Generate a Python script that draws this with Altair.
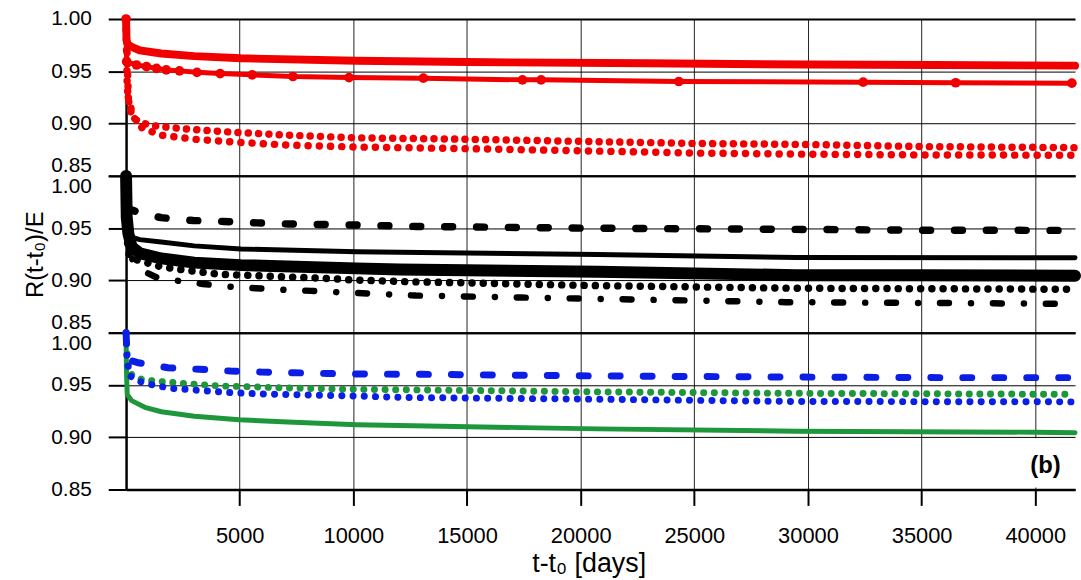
import altair as alt
import pandas as pd

FONT = "Liberation Sans"

# ---------------- data ----------------
X_TICKS = [5000, 10000, 15000, 20000, 25000, 30000, 35000, 40000]
Y_TICKS = [0.85, 0.90, 0.95, 1.00]
X_MAX = 41750

# panel 1 (red)
T_R_SOLID = [0, 20, 60, 245, 600, 1550, 3000, 5050, 10130, 15000, 22930, 30000, 35580, 41750]
V_R_SOLID = [1.0, 0.980, 0.976, 0.9734, 0.970, 0.967, 0.9645, 0.9624, 0.960, 0.9588, 0.9576, 0.9565, 0.956, 0.9554]

T_R_MARK = [0, 25, 460, 900, 1340, 1770, 2350, 3120, 4140, 5550, 7340, 9810, 13080, 17440, 18260, 24320, 32430, 36500, 41610]
V_R_MARK = [1.0, 0.9592, 0.956, 0.9545, 0.9528, 0.9513, 0.9504, 0.949, 0.9478, 0.9466, 0.945, 0.944, 0.9434, 0.9418, 0.9418, 0.9402, 0.9396, 0.939, 0.9386]

T_R_DOT1 = [0, 50, 150, 300, 600, 1200, 2500, 4500, 7000, 10000, 15000, 20000, 25000, 30000, 35000, 41750]
V_R_DOT1 = [1.0, 0.935, 0.915, 0.906, 0.901, 0.898, 0.895, 0.892, 0.889, 0.8864, 0.885, 0.883, 0.881, 0.880, 0.878, 0.877]

T_R_DOT2 = [0, 100, 300, 700, 1500, 3000, 5000, 7000, 10000, 15000, 20000, 25000, 30000, 35000, 41750]
V_R_DOT2 = [1.0, 0.925, 0.907, 0.896, 0.889, 0.885, 0.882, 0.8795, 0.8776, 0.876, 0.874, 0.8718, 0.8707, 0.870, 0.8697]

# panel 2 (black)
T_K_THICK = [0, 30, 100, 245, 600, 1550, 3000, 5050, 10130, 12030, 20750, 29480, 35000, 41750]
V_K_THICK = [1.0, 0.960, 0.945, 0.932, 0.926, 0.921, 0.917, 0.9146, 0.9115, 0.9105, 0.9083, 0.905, 0.905, 0.9045]

T_K_THIN = [0, 30, 100, 245, 600, 1550, 3000, 5050, 10130, 12030, 20750, 29480, 41750]
V_K_THIN = [1.0, 0.955, 0.945, 0.9415, 0.939, 0.9367, 0.933, 0.930, 0.9275, 0.927, 0.9248, 0.922, 0.9216]

T_K_DASH = [0, 30, 150, 700, 1550, 2950, 4300, 5750, 7120, 8570, 10000, 12760, 20000, 29340, 35000, 41750]
V_K_DASH = [1.0, 0.975, 0.968, 0.964, 0.960, 0.9573, 0.9564, 0.955, 0.954, 0.9535, 0.953, 0.9516, 0.950, 0.9488, 0.948, 0.9478]

T_K_DOT = [0, 40, 150, 600, 1550, 2560, 4120, 5180, 6810, 8700, 10000, 12320, 20750, 29340, 38000, 41750]
V_K_DOT = [1.0, 0.94, 0.922, 0.9187, 0.913, 0.9099, 0.9058, 0.905, 0.9035, 0.902, 0.9004, 0.8988, 0.895, 0.8925, 0.8918, 0.8915]

T_K_DASHDOT = [0, 60, 300, 800, 1330, 2240, 3370, 4530, 5700, 6900, 8150, 9300, 12750, 17400, 29000, 41750]
V_K_DASHDOT = [1.0, 0.94, 0.918, 0.9085, 0.903, 0.8997, 0.8966, 0.894, 0.8925, 0.891, 0.890, 0.8887, 0.8855, 0.8836, 0.8792, 0.8776]

# panel 3 (blue / green)
T_B_DASH = [0, 50, 300, 550, 1840, 3220, 4600, 5990, 7370, 8830, 10000, 13040, 20750, 28800, 36000, 41750]
V_B_DASH = [1.0, 0.975, 0.9728, 0.9712, 0.9665, 0.965, 0.9633, 0.9623, 0.9617, 0.961, 0.9605, 0.9602, 0.9586, 0.9576, 0.957, 0.957]

T_B_DOT = [0, 40, 150, 606, 1043, 1553, 1990, 2500, 3517, 4463, 5916, 7880, 9843, 12317, 20750, 29333, 39950, 41750]
V_B_DOT = [1.0, 0.975, 0.959, 0.9532, 0.9507, 0.9485, 0.9466, 0.946, 0.9443, 0.9428, 0.9415, 0.9405, 0.9396, 0.938, 0.9364, 0.9342, 0.9339, 0.9338]

T_G_DOT = [0, 60, 245, 681, 1190, 1700, 2645, 4170, 5175, 6933, 9263, 12720, 20750, 29480, 39950, 41750]
V_G_DOT = [1.0, 0.972, 0.960, 0.9554, 0.9538, 0.953, 0.9513, 0.949, 0.9485, 0.9472, 0.946, 0.9453, 0.9434, 0.942, 0.9412, 0.941]

T_G_SOLID = [0, 15, 50, 245, 825, 1553, 3006, 4970, 7369, 10135, 12025, 20750, 29480, 39950, 41750]
V_G_SOLID = [1.0, 0.965, 0.941, 0.935, 0.9286, 0.9244, 0.92, 0.9168, 0.9143, 0.912, 0.9112, 0.908, 0.9058, 0.9048, 0.9043]

# annotation "(b)" and its white backing box
NOTE_TEXT = ["(b)"]
NOTE_T = [40450]
NOTE_V = [0.8729]
BOX_T = [38600]
BOX_T2 = [41750]
BOX_V = [0.852]
BOX_V2 = [0.899]

RED = "#F00000"
BLUE = "#0A1EE6"
GREEN = "#1E963C"
BLACK = "#000000"
GRID = "#222222"

# ---------------- helpers ----------------
def frame(t, v):
    return pd.DataFrame({"t": t, "v": v})

X_SCALE = alt.Scale(domain=[0, X_MAX], nice=False, zero=False)
Y_SCALE = alt.Scale(domain=[0.85, 1.0], nice=False, zero=False)

GRID_W = {"condition": {"test": "datum.value < 0.86 || datum.value > 0.99", "value": 2}, "value": 1}


def x_axis(bottom):
    if bottom:
        return alt.Axis(values=X_TICKS, grid=True, gridColor=GRID, gridWidth=1,
                        tickSize=16, tickWidth=2, tickColor=BLACK,
                        domainColor=BLACK, domainWidth=2.5,
                        labelFontSize=22, labelColor=BLACK, labelPadding=20,
                        labelFlush=False, format="d",
                        title="t-t₀ [days]", titleFontSize=27, titleColor=BLACK,
                        titleFontWeight="normal", titlePadding=5,
                        titleX=466, titleAlign="center")
    return alt.Axis(values=X_TICKS, grid=True, gridColor=GRID, gridWidth=1,
                    ticks=False, labels=False, domain=False, title=None)


def y_axis(panel):
    kw = dict(values=Y_TICKS, format=".2f", grid=True, gridColor=BLACK, gridWidth=GRID_W,
              tickSize=18, tickWidth=2, tickColor=BLACK,
              domainColor=BLACK, domainWidth=2.5,
              labelFontSize=21, labelColor=BLACK, labelPadding=17)
    if panel == 1:
        kw["labelBaseline"] = {"condition": {"test": "datum.value < 0.86", "value": "bottom"}, "value": "middle"}
    elif panel == 2:
        kw["labelFlush"] = True
    else:
        kw["labelBaseline"] = {"condition": {"test": "datum.value > 0.99", "value": "top"}, "value": "middle"}
    if panel == 2:
        kw.update(title="R(t-t₀)/E", titleFontSize=24, titleColor=BLACK,
                  titleFontWeight="normal", titlePadding=3)
    else:
        kw["title"] = None
    return alt.Axis(**kw)


def line(t, v, color, width, panel, dash=None, bottom=False):
    mk = dict(color=color, strokeWidth=width, strokeCap="round", strokeJoin="round")
    if dash is not None:
        mk["strokeDash"] = dash
    return alt.Chart(frame(t, v)).mark_line(**mk).encode(
        x=alt.X("t:Q", scale=X_SCALE, axis=x_axis(bottom)),
        y=alt.Y("v:Q", scale=Y_SCALE, axis=y_axis(panel)),
    )


DOT = [0.1, 11.2]

# ---------------- panel 1 ----------------
p1 = alt.layer(
    line(T_R_DOT2, V_R_DOT2, RED, 7.5, 1, DOT),
    line(T_R_DOT1, V_R_DOT1, RED, 7.5, 1, [0.1, 10.3]),
    line(T_R_MARK, V_R_MARK, RED, 5, 1),
    alt.Chart(frame(T_R_MARK, V_R_MARK)).mark_point(filled=True, color=RED, size=95, opacity=1).encode(
        x=alt.X("t:Q", scale=X_SCALE, axis=x_axis(False)),
        y=alt.Y("v:Q", scale=Y_SCALE, axis=y_axis(1)),
    ),
    line(T_R_SOLID, V_R_SOLID, RED, 8, 1),
).properties(width=956, height=158)

# ---------------- panel 2 ----------------
p2 = alt.layer(
    line(T_K_THICK, V_K_THICK, BLACK, 12, 2),
    line(T_K_THIN, V_K_THIN, BLACK, 5, 2),
    line(T_K_DASH, V_K_DASH, BLACK, 7.5, 2, [8, 24.1]),
    line(T_K_DOT, V_K_DOT, BLACK, 7.5, 2, DOT),
    line(T_K_DASHDOT, V_K_DASHDOT, BLACK, 6.5, 2, [9, 22.2, 0.1, 22]),
).properties(width=956, height=158)

# ---------------- panel 3 ----------------
note = alt.Chart(pd.DataFrame({"t": NOTE_T, "v": NOTE_V, "txt": NOTE_TEXT}))
box = alt.Chart(pd.DataFrame({"t": BOX_T, "t2": BOX_T2, "v": BOX_V, "v2": BOX_V2}))

p3 = alt.layer(
    line(T_G_SOLID, V_G_SOLID, GREEN, 5, 3, bottom=True),
    line(T_G_DOT, V_G_DOT, GREEN, 7, 3, [0.1, 10.6], bottom=True),
    line(T_B_DASH, V_B_DASH, BLUE, 7, 3, [9, 23.2], bottom=True),
    line(T_B_DOT, V_B_DOT, BLUE, 7, 3, DOT, bottom=True),
    box.mark_rect(color="white", opacity=1).encode(
        x=alt.X("t:Q", scale=X_SCALE, axis=x_axis(True)), x2="t2:Q",
        y=alt.Y("v:Q", scale=Y_SCALE, axis=y_axis(3)), y2="v2:Q",
    ),
    note.mark_text(font=FONT, fontSize=24, fontWeight="bold", color=BLACK).encode(
        x=alt.X("t:Q", scale=X_SCALE, axis=x_axis(True)),
        y=alt.Y("v:Q", scale=Y_SCALE, axis=y_axis(3)),
        text="txt:N",
    ),
).properties(width=956, height=158)

chart = alt.vconcat(p1, p2, p3, spacing=0, bounds="flush").properties(
    padding={"left": 24, "top": 6, "right": 0, "bottom": 0},
    background="white",
).configure_view(strokeWidth=0).configure_axis(
    labelFont=FONT, titleFont=FONT
)

chart.save("out.html", embed_options={"renderer": "svg", "actions": False})
